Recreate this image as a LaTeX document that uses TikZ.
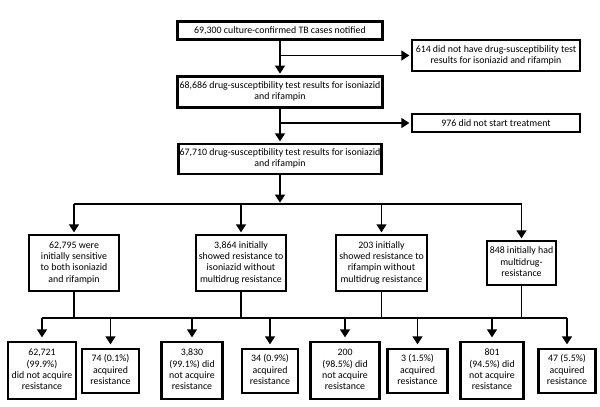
\documentclass[tikz,border=0pt]{standalone}
\usepackage{fontspec}
\setmainfont{Carlito}
\usetikzlibrary{arrows.meta}
\newcommand{\boxlines}[1]{\begin{tabular}{@{}c@{}}#1\end{tabular}}
\tikzset{
	box/.style={draw, line width=2pt, inner sep=0pt, font=\fontsize{7.4}{8.5}\selectfont},
	sz/.style 2 args={minimum width={#1*0.75pt}, minimum height={#2*0.75pt}},
	link/.style={line width=1pt},
	arr/.style={link, -{Triangle[width=7.5pt,length=6pt]}, shorten >=1pt},
}
\begin{document}
\begin{tikzpicture}[x=0.75pt, y=-0.75pt]
	\useasboundingbox (0,0) rectangle (600,407);
	% top column
	\node[box, sz={205}{18}] (cases) at (280,30.3) {69,300 culture-confirmed TB cases notified};
	\node[box, sz={168}{31}] (nodst) at (496,55.5) {\boxlines{614 did not have drug-susceptibility test\\results for isoniazid and rifampin}};
	\node[box, sz={205}{31}] (dst1) at (280,91.8) {\boxlines{68,686 drug-susceptibility test results for isoniazid\\and rifampin}};
	\node[box, sz={168}{18}] (notx) at (496,123) {976 did not start treatment};
	\node[box, sz={203}{30}] (dst2) at (280,159) {\boxlines{67,710 drug-susceptibility test results for isoniazid\\and rifampin}};

	% initial resistance
	\node[box, sz={90}{56}] (sens) at (74,263) {\boxlines{62,795 were\\initially sensitive\\to both isoniazid\\and rifampin}};
	\node[box, sz={90}{56}] (inh) at (241,263) {\boxlines{3,864 initially\\showed resistance to\\isoniazid without\\multidrug resistance}};
	\node[box, sz={91}{56}] (rif) at (381.5,263) {\boxlines{203 initially\\showed resistance to\\rifampin without\\multidrug resistance}};
	\node[box, sz={69}{44}] (mdr) at (521.5,263) {\boxlines{848 initially had\\multidrug-\\resistance}};

	% outcome
	\node[box, sz={68}{57}] (sens0) at (42,370.5) {\boxlines{62,721\\(99.9\%)\\did not acquire\\resistance}};
	\node[box, sz={57}{44}] (sens1) at (110.5,371) {\boxlines{74 (0.1\%)\\acquired\\resistance}};
	\node[box, sz={61}{57}] (inh0) at (192,370.5) {\boxlines{3,830\\(99.1\%) did\\not acquire\\resistance}};
	\node[box, sz={56}{44}] (inh1) at (270,371) {\boxlines{34 (0.9\%)\\acquired\\resistance}};
	\node[box, sz={69}{57}] (rif0) at (345,370.5) {\boxlines{200\\(98.5\%) did\\not acquire\\resistance}};
	\node[box, sz={60}{44}] (rif1) at (417.5,371) {\boxlines{3 (1.5\%)\\acquired\\resistance}};
	\node[box, sz={63}{57}] (mdr0) at (492,370.5) {\boxlines{801\\(94.5\%) did\\not acquire\\resistance}};
	\node[box, sz={57}{44}] (mdr1) at (567,371) {\boxlines{47 (5.5\%)\\acquired\\resistance}};

	\coordinate (split) at (280,204);
	\coordinate (join) at (280,318);

	\draw[arr] (cases.south) -- (dst1.north);
	\draw[arr] (cases.south |- nodst.west) -- (nodst.west);
	\draw[arr] (dst1.south) -- (dst2.north);
	\draw[arr] (dst1.south |- notx.west) -- (notx.west);
	\draw[arr] (dst2.south) -- (split);

	\draw[link] (sens.north |- split) -- (mdr.north |- split);
	\foreach \b in {sens, inh, rif, mdr}
	{
		\draw[arr] (\b.north |- split) -- (\b.north);
		\draw[link] (\b.south) -- (\b.south |- join);
	}

	\draw[link] (sens0.north |- join) -- (mdr1.north |- join);
	\foreach \b in {sens0, sens1, inh0, inh1, rif0, rif1, mdr0, mdr1}
	{
		\draw[arr, shorten >=2.5pt] (\b.north |- join) -- (\b.north);
	}
\end{tikzpicture}
\end{document}
